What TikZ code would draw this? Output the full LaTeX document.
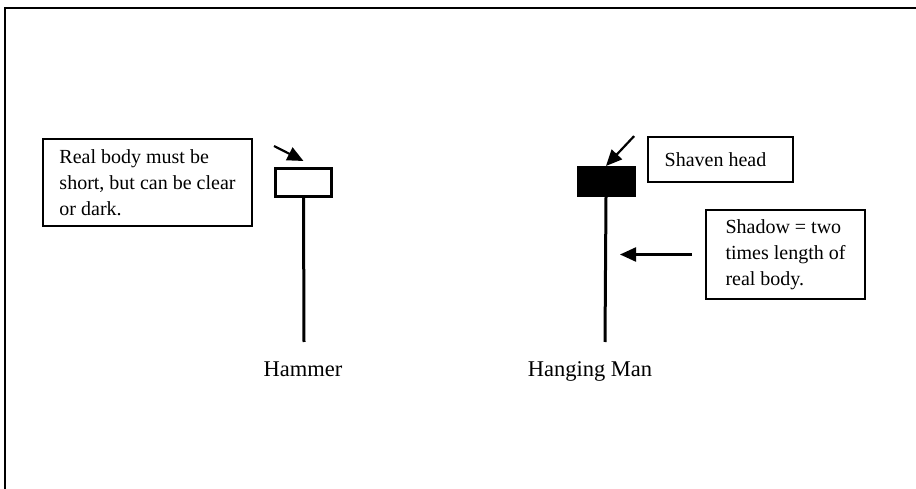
\documentclass[tikz,border=0pt]{standalone}
\usepackage{fontspec}
\setmainfont{Liberation Serif}
\usetikzlibrary{arrows.meta}
\begin{document}
\begin{tikzpicture}[x=1pt,y=-1pt,
  callout/.style={draw, line width=1.8pt, align=left, inner sep=4pt,
    font=\fontsize{20}{26}\selectfont},
  candle/.style={draw, line width=3pt, minimum width=56pt, minimum height=28pt, inner sep=0pt},
  wick/.style={line width=3pt},
  arr/.style={line width=2.2pt, -{Triangle[length=16pt,width=14pt]}},
  lbl/.style={anchor=base, font=\fontsize{22.5}{26}\selectfont},
  frame/.style={line width=2.5pt}]
\useasboundingbox (0,0) rectangle (916,489);
% frame (left and top edges)
\coordinate (f1) at (5,489);
\coordinate (f2) at (5,8);
\coordinate (f3) at (916,8);
\draw[frame] (f1) -- (f2) -- (f3);
% Hammer
\node[candle, fill=white] (hb) at (303.5,182.5) {};
\coordinate (hw) at (304,342);
\draw[wick] (hb.south) -- (hw);
\node[callout, minimum width=209pt, minimum height=87pt] (hc) at (147.5,182.5)
  {Real body must be\\short, but can be clear\\or dark.};
\coordinate (ha) at (274,146);
\draw[arr] (ha) -- ([yshift=6pt]hb.north);
\node[lbl] (hl) at (303,376) {Hammer};
% Hanging Man
\node[candle, fill=black] (mb) at (606,181.5) {};
\coordinate (mw) at (605,342);
\draw[wick] (mb.south) -- (mw);
\node[callout, minimum width=145pt, minimum height=45pt] (sh) at (720.5,159.5)
  {Shaven head\hspace{10pt}};
\draw[arr] ([xshift=-13pt]sh.north west) -- (mb.north);
\node[callout, minimum width=159pt, minimum height=89pt] (sd) at (785.5,254.5)
  {Shadow = two\\times length of\\real body.};
\coordinate (st) at (620,254.5);
\draw[arr] ([xshift=-13pt]sd.west) -- (st);
\node[lbl] (ml) at (590,376) {Hanging Man};
\end{tikzpicture}
\end{document}
